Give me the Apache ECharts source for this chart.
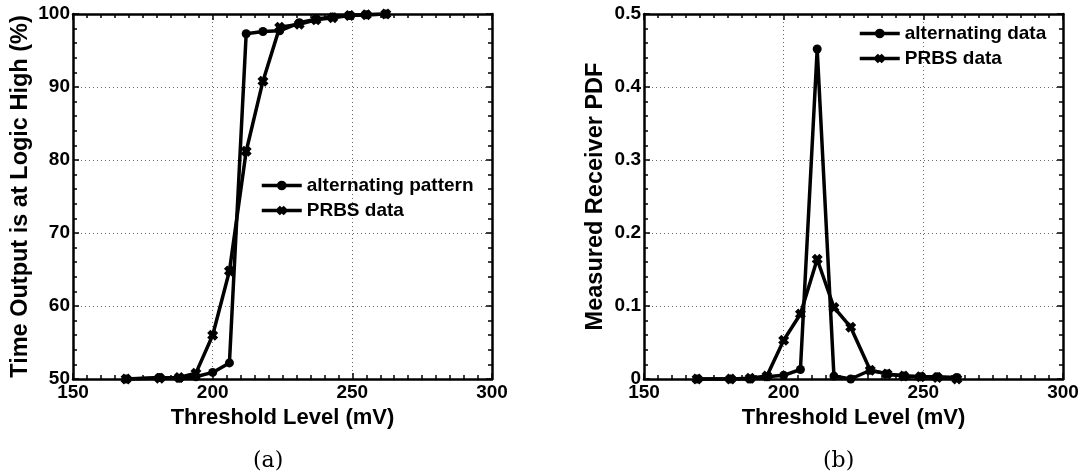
<!DOCTYPE html>
<html>
<head>
<meta charset="utf-8">
<script src="https://cdn.jsdelivr.net/npm/echarts@6/dist/echarts.min.js"></script>
<style>
    html, body { margin: 0; padding: 0; background: #fff; }
    #chart { width: 1085px; height: 475px; }
</style>
</head>
<body>
<div id="chart"></div>
<script>
// threshold levels (mV), shared by both panels
const thresholdMv = [169, 181, 188, 194, 200, 206, 212, 218, 224, 231, 237, 243, 249, 255, 262];

// (a) time output is at logic high (%)
const highAlternating = [50.0, 50.2, 50.1, 50.3, 50.9, 52.2, 97.3, 97.6, 97.7, 98.8, 99.3, 99.6, 99.8, 99.9, 100.0];
const highPrbs = [50.0, 50.1, 50.2, 50.8, 56.0, 64.8, 81.2, 90.8, 98.2, 98.6, 99.2, 99.5, 99.8, 99.9, 100.0];

// (b) measured receiver PDF
const pdfAlternating = [0, 0, 0, 0.003, 0.005, 0.013, 0.452, 0.004, 0, 0.012, 0.007, 0.004, 0.003, 0.003, 0.002];
const pdfPrbs = [0, 0, 0.001, 0.004, 0.053, 0.089, 0.164, 0.098, 0.071, 0.012, 0.007, 0.004, 0.003, 0.002, 0];

const captions = ['(a)', '(b)'];

const pair = (xs, ys) => xs.map((x, i) => [x, ys[i]]);

const FONT = '"Liberation Sans", Arial, Helvetica, sans-serif';
// heavy "x" marker
const crossSymbol = 'path://M0,3 L3,0 L5,2 L7,0 L10,3 L8,5 L10,7 L7,10 L5,8 L3,10 L0,7 L2,5 Z';

function boxAxis(dim, gridIndex, position, opts) {
    const main = position === 'bottom' || position === 'left';
    return Object.assign({
        type: 'value',
        gridIndex: gridIndex,
        position: position,
        axisLine: { show: true, onZero: false, lineStyle: { color: '#000', width: 2.5 } },
        axisTick: { show: true, inside: true, length: 6, lineStyle: { color: '#000', width: 1.5 } },
        minorTick: { show: true, length: 4, splitNumber: dim === 'x' ? 10 : 5, lineStyle: { color: '#000', width: 1.5 } },
        axisLabel: {
            show: main,
            color: '#000',
            fontFamily: FONT,
            fontWeight: 'bold',
            fontSize: 19,
            margin: dim === 'x' ? 4 : 3
        },
        splitLine: {
            show: main,
            lineStyle: { color: '#666', width: 1, type: [1, 3] }
        },
        nameTextStyle: { color: '#000', fontFamily: FONT, fontWeight: 'bold', fontSize: dim === 'x' ? 22 : 23.5 }
    }, opts);
}

function lineSeries(name, data, xi, yi, symbol) {
    return {
        name: name,
        type: 'line',
        xAxisIndex: xi,
        yAxisIndex: yi,
        data: data,
        symbol: symbol,
        symbolSize: symbol === 'circle' ? 9 : 11,
        showSymbol: true,
        lineStyle: { color: '#000', width: 3.5 },
        itemStyle: { color: '#000' },
        emphasis: { disabled: true },
        animation: false
    };
}

const legendText = { color: '#000', fontFamily: FONT, fontWeight: 'bold', fontSize: 19 };

let option = {
    backgroundColor: '#fff',
    animation: false,
    grid: [
        { left: 73, top: 14, width: 419, height: 365 },
        { left: 644, top: 14, width: 419, height: 365 }
    ],
    xAxis: [
        boxAxis('x', 0, 'bottom', { min: 150, max: 300, interval: 50, name: 'Threshold Level (mV)', nameLocation: 'middle', nameGap: 27 }),
        boxAxis('x', 0, 'top', { min: 150, max: 300, interval: 50 }),
        boxAxis('x', 1, 'bottom', { min: 150, max: 300, interval: 50, name: 'Threshold Level (mV)', nameLocation: 'middle', nameGap: 27 }),
        boxAxis('x', 1, 'top', { min: 150, max: 300, interval: 50 })
    ],
    yAxis: [
        boxAxis('y', 0, 'left', { min: 50, max: 100, interval: 10, name: 'Time Output is at Logic High (%)', nameLocation: 'middle', nameGap: 40 }),
        boxAxis('y', 0, 'right', { min: 50, max: 100, interval: 10 }),
        boxAxis('y', 1, 'left', { min: 0, max: 0.5, interval: 0.1, name: 'Measured Receiver PDF', nameLocation: 'middle', nameGap: 36 }),
        boxAxis('y', 1, 'right', { min: 0, max: 0.5, interval: 0.1 })
    ],
    legend: [
        {
            orient: 'vertical', left: 260, top: 176, padding: 0,
            itemWidth: 40, itemHeight: 12, itemGap: 6,
            lineStyle: { width: 3.5 },
            textStyle: legendText,
            data: ['alternating pattern', 'PRBS data']
        },
        {
            orient: 'vertical', left: 858, top: 24, padding: 0,
            itemWidth: 40, itemHeight: 12, itemGap: 6,
            lineStyle: { width: 3.5 },
            textStyle: legendText,
            data: ['alternating data', 'PRBS data']
        }
    ],
    graphic: [
        { type: 'text', left: 253, top: 450, style: { text: captions[0], fill: '#000', font: '22px "DejaVu Serif", "Liberation Serif", serif' } },
        { type: 'text', left: 823, top: 450, style: { text: captions[1], fill: '#000', font: '22px "DejaVu Serif", "Liberation Serif", serif' } }
    ],
    series: [
        lineSeries('alternating pattern', pair(thresholdMv, highAlternating), 0, 0, 'circle'),
        lineSeries('PRBS data', pair(thresholdMv, highPrbs), 0, 0, crossSymbol),
        lineSeries('alternating data', pair(thresholdMv, pdfAlternating), 2, 2, 'circle'),
        lineSeries('PRBS data', pair(thresholdMv, pdfPrbs), 2, 2, crossSymbol)
    ]
};

let myChart = echarts.init(document.getElementById('chart'), null, { renderer: 'canvas' });
myChart.setOption(option);
</script>
</body>
</html>
